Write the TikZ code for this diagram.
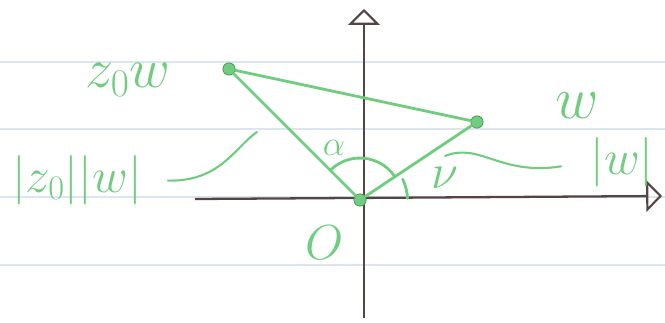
\RequirePackage{fix-cm}
\documentclass[tikz,border=0pt]{standalone}
\usetikzlibrary{arrows.meta}
\definecolor{marker}{RGB}{112,205,128}
\definecolor{pen}{RGB}{85,68,68}
\definecolor{ruling}{RGB}{218,230,240}

\begin{document}
\begin{tikzpicture}[
    x=0.02cm, y=0.02cm,
    axis/.style={pen, line width=1.3pt,
                 -{Triangle[open, length=9pt, width=18pt, line width=1.2pt]}},
    edge/.style={marker, line width=1.6pt, line cap=round},
    point/.style={circle, fill=marker, draw=marker!70!black,
                  inner sep=0pt, minimum size=7pt},
    lbl/.style={marker, font=\fontsize{28}{32}\selectfont}
  ]
  \useasboundingbox (0,0) rectangle (665,322);

  % Ruled paper
  \foreach \y in {57,125,193,260}
    \draw[ruling, line width=0.8pt] (0,\y) -- (665,\y);

  % Axes
  \coordinate (xl) at (195,123);
  \coordinate (xr) at (662,126);
  \coordinate (yb) at (364,4);
  \coordinate (yt) at (364,313);
  \draw[axis] (xl) -- (xr);
  \draw[axis] (yb) -- (yt);

  % Points
  \node[point] (O) at (360,122) {};
  \node[point] (zw) at (229,253) {};
  \node[point] (w) at (477,200) {};

  \draw[edge] (O) -- (zw);
  \draw[edge] (zw) -- (w);
  \draw[edge] (O) -- (w);

  % Angles
  \draw[edge] ([shift={(33.7:0.84cm)}]O.center)
    arc[start angle=33.7, end angle=134.6, radius=0.84cm];
  \draw[edge] ([shift={(2:0.95cm)}]O.center)
    arc[start angle=2, end angle=26, radius=0.95cm];

  % Labels
  \node[lbl, font=\fontsize{32}{36}\selectfont] (zwl) at (128,242) {$z_0w$};
  \node[lbl] (mod) at (77,142) {$|z_0||w|$};
  \node[lbl, font=\fontsize{34}{38}\selectfont, inner sep=1pt] (wl) at (577,216) {$w$};
  \node[lbl, inner sep=1pt] (modw) at (622,160) {$|w|$};
  \node[lbl, font=\fontsize{20}{24}\selectfont] (al) at (334,174) {$\alpha$};
  \node[lbl] (nu) at (445,144) {$\nu$};
  \node[lbl] (Ol) at (325,79) {$O$};

  % Pointers
  \coordinate (p1) at (257,190);
  \coordinate (p2) at (445,166);
  \draw[edge, line width=1.2pt, shorten <=0.4cm] (mod.east)
    .. controls (220,140) and (235,175) .. (p1);
  \draw[edge, line width=1.2pt, shorten <=0.55cm] (modw.west)
    .. controls (500,146) and (480,180) .. (p2);
\end{tikzpicture}
\end{document}
